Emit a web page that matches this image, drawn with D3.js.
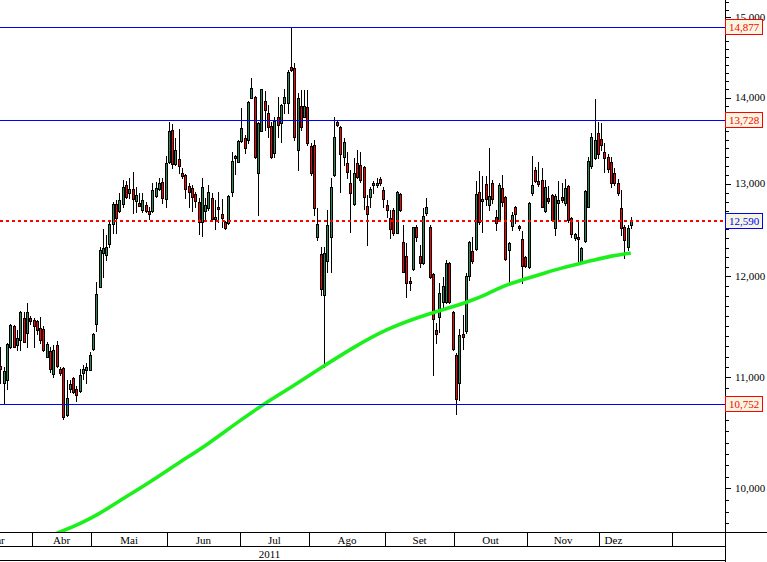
<!DOCTYPE html>
<html><head><meta charset="utf-8">
<script src="https://cdn.jsdelivr.net/npm/d3@7"></script>
<style>html,body{margin:0;padding:0;background:#fff;overflow:hidden}svg{display:block}</style>
</head><body><svg id="c" width="767" height="562"></svg>
<script>
// ---- data (daily candles, index 0 = first visible trading day) ----
const open = [11110,10949,10977,11293,11500,11313,11361,11579,11430,11579,
11559,11549,11480,11470,11196,11254,11034,11313,11082,11091,
10651,10892,10996,10892,10874,11044,11072,11072,11274,11519,
11892,12246,12225,12341,12556,12773,12697,12773,12984,12895,
12939,12806,12784,12708,12763,12697,12697,12861,12939,13018,
12828,13244,13614,13221,13279,13119,13096,12973,12950,12884,
12795,12578,12697,12730,12839,12610,12741,12664,12578,12567,
12906,13290,13244,13485,13520,13497,13995,14007,13119,13602,
13959,13815,13661,13348,13768,13697,13935,13935,14373,14361,
13382,13899,13768,13887,13428,13439,12415,12235,11810,12162,
12415,13096,13708,13650,13302,13233,13006,12773,13233,13210,
13187,12752,12850,12984,12984,13051,12928,12763,12621,12708,
12458,12884,12362,12214,11954,12078,12524,12214,12141,12675,
12524,12026,11460,11589,11740,11740,12141,11639,11216,10949,
11420,11450,12005,12267,12288,12906,12806,12995,12763,13006,
12632,12599,12950,12850,12277,12535,12741,12535,12394,12204,
12099,12895,13153,13029,13040,12697,12839,12873,12514,12784,
12850,12784,12973,12621,12404,12415,12151,12372,12741,13199,
13290,13579,13509,13359,13302,13244,13119,13006,12730,12524,
12309,12545];
const high = [11293,11100,11332,11519,11510,11460,11649,11639,11730,11599,
11579,11559,11589,11500,11342,11293,11313,11351,11100,11100,
10977,10977,11006,10921,11082,11120,11139,11245,11430,11943,
12309,12503,12437,12578,12795,12817,12895,13040,13029,13063,
13130,12962,12895,12895,12795,12741,13006,13018,13063,13063,
13313,13708,13685,13520,13626,13176,13108,13006,12984,12906,
12839,13063,12839,12984,12895,12817,12906,12828,12588,12873,
13359,13325,13497,13875,13555,13959,14238,14019,13708,14103,
14079,13911,13708,13768,14007,13923,14103,14336,14877,14423,
14055,14091,14091,14091,13462,13497,12730,12309,12309,12708,
13063,13768,13728,13661,13520,13359,13153,13290,13382,13359,
13199,12873,12962,13029,13063,13074,12962,12817,12708,12730,
12917,12895,12545,12351,11995,12524,12545,12330,12730,12839,
12545,12036,11529,11933,11995,12172,12151,11649,11235,11470,
11609,12036,12372,12415,13029,13142,13085,13085,13405,13040,
12708,13006,13096,12861,12362,12686,12752,12545,12479,12214,
12795,13313,13187,13244,13176,13040,12973,12884,12884,13029,
13006,13051,12984,12632,12458,12578,12309,12928,13302,13579,
13983,13708,13697,13462,13336,13302,13176,13051,12928,12545,
12545,12632];
const low = [10949,10752,10892,11284,11293,11264,11264,11342,11293,11519,
11293,11420,11332,11254,11196,11053,11006,11100,11025,10615,
10642,10864,10855,10780,10864,10987,10949,11072,11264,11450,
11892,11995,12172,12309,12458,12458,12686,12741,12839,12839,
12675,12686,12752,12686,12686,12610,12686,12850,12928,12784,
12741,13233,13176,13210,13119,13063,12839,12741,12697,12741,
12447,12426,12610,12708,12599,12503,12578,12524,12503,12556,
12861,13108,13244,13474,13348,13462,13995,13290,12654,13602,
13614,13532,13290,13302,13532,13474,13815,13815,14324,13497,
13153,13614,13768,13439,13096,12654,12383,11810,11100,12046,
12046,13085,13661,12906,13210,13063,12469,12763,13063,13018,
12719,12330,12741,12895,12962,12984,12741,12632,12404,12437,
12458,12697,12046,11790,11861,12067,12372,12099,12130,12654,
11985,11025,11332,11440,11659,11730,11730,11264,10660,10789,
11274,11430,11964,12141,12277,12556,12469,12763,12708,12784,
12490,12588,12752,12172,11912,12490,12567,12490,11933,12099,
12089,12873,13018,12973,12741,12686,12784,12588,12437,12599,
12795,12763,12578,12415,12383,12141,12141,12362,12741,13176,
13279,13290,13382,13130,13130,12962,12984,12873,12437,12193,
12277,12514];
const close = [11082,11063,11322,11510,11293,11381,11639,11342,11639,11549,
11500,11460,11361,11264,11322,11082,11264,11110,11044,10633,
10808,10939,10864,10836,11025,11082,11100,11216,11420,11820,
12277,12298,12309,12556,12773,12621,12817,12962,12850,12939,
12828,12873,12752,12817,12697,12664,12928,12950,13006,12839,
13233,13602,13221,13382,13199,13085,12939,12906,12850,12806,
12578,12962,12763,12906,12610,12632,12719,12621,12514,12861,
13256,13313,13485,13638,13405,13947,14115,13302,13697,14103,
13851,13650,13302,13720,13673,13911,14007,14311,14336,13532,
13995,13650,13899,13462,13119,12730,12556,11871,12246,12545,
12962,13532,13673,13336,13474,13130,12895,13119,13074,13040,
12850,12664,12939,13006,13006,13006,12828,12708,12503,12458,
12906,12708,12046,11933,11933,12524,12415,12141,12643,12741,
11995,11569,11420,11831,11902,12141,11740,11274,10798,11410,
11391,12005,12362,12162,12884,12578,12828,12828,12861,12828,
12567,12984,12795,12183,12351,12654,12664,12514,12110,12110,
12784,12984,13029,12995,12741,12962,12806,12599,12861,12817,
12817,12950,12599,12447,12447,12394,12298,12917,13256,13532,
13497,13336,13439,13290,13164,13006,13006,12895,12514,12383,
12514,12590];

// moving average, read at selected day indices
const maIndex = [15,19,24,30,36,45,54,63,72,82,88,97,107,117,127,132,137,142,147,150,155,160,165,170,175,180,185,191];
const maValue = [9595,9640,9697,9781,9890,10045,10221,10387,10590,10795,10905,11090,11290,11470,11589,11641,11689,11745,11811,11865,11933,11985,12037,12088,12131,12172,12214,12245];

// horizontal levels
const levels = [14877, 13728, 10752];
const lastClose = 12590;

// axis labels
const monthNames = ["Mar","Abr","Mai","Jun","Jul","Ago","Set","Out","Nov","Dez"];
const monthStart = [-12,10,28,51,73,94,117,138,160,182];
const monthEnd = 204;
const yearName = "2011";
const yearStart = -40;
const majorTicks = [10000,11000,12000,13000,14000,15000];

// ---- layout ----
const W = 767, H = 562, plotR = 725, plotB = 532;
const svg = d3.select("#c");
const x = d3.scaleLinear().domain([-0.1515, 219.545]).range([0, plotR]);
const y = d3.scaleLog().domain([9629, 15227]).range([plotB, 0]);
const fmt = d3.format(",");
const FONT = "'Liberation Serif', serif";

svg.append("defs").append("clipPath").attr("id","pc")
  .append("rect").attr("x",0).attr("y",0).attr("width",plotR).attr("height",plotB);
const plot = svg.append("g").attr("clip-path","url(#pc)");

// candles
const idx = d3.range(close.length);
const cg = plot.append("g").attr("shape-rendering","crispEdges");
idx.forEach(i => {
  const cx = Math.round(x(i)) - 1;
  cg.append("line")
    .attr("x1", cx + 1.5).attr("x2", cx + 1.5)
    .attr("y1", Math.round(y(high[i]))).attr("y2", Math.round(y(low[i])) + 1)
    .attr("stroke","#000").attr("stroke-width",1);
  const t = Math.round(y(Math.max(open[i], close[i])));
  const b = Math.round(y(Math.min(open[i], close[i])));
  cg.append("rect")
    .attr("x", cx + 0.5).attr("y", t + 0.5)
    .attr("width", 2).attr("height", Math.max(1, b - t))
    .attr("fill", close[i] >= open[i] ? "#2e8b57" : "#ff0000")
    .attr("stroke","#000").attr("stroke-width",1);
});

// moving average
plot.append("path")
  .datum(maIndex.map((d,k)=>[d, maValue[k]]))
  .attr("d", d3.line().x(d=>x(d[0])).y(d=>y(d[1])).curve(d3.curveBasis))
  .attr("fill","none").attr("stroke","#1cf01c").attr("stroke-width",3.6);

// level lines (drawn as thin filled rects, above candles)
const lg = svg.append("g").attr("shape-rendering","crispEdges");
levels.forEach(v => {
  lg.append("rect").attr("x",0).attr("width",plotR)
    .attr("y", Math.round(y(v))).attr("height", 1)
    .attr("fill","#0000ff");
});
lg.append("line").attr("x1",0).attr("x2",plotR)
  .attr("y1", Math.round(y(lastClose)) ).attr("y2", Math.round(y(lastClose)))
  .attr("stroke","#ff0000").attr("stroke-width",2).attr("stroke-dasharray","3,3");

// right axis
const minor = d3.range(9600, 15300, 100).filter(v => y(v) >= 0 && y(v) <= plotB);
svg.append("g").attr("shape-rendering","crispEdges").selectAll("line").data(minor).join("line")
  .attr("x1", plotR).attr("x2", d => plotR + (majorTicks.includes(d) ? 6 : 4))
  .attr("y1", d => Math.round(y(d)) + 0.5).attr("y2", d => Math.round(y(d)) + 0.5)
  .attr("stroke","#000").attr("stroke-width",1);
svg.append("g").selectAll("text").data(majorTicks).join("text")
  .attr("x", plotR + 10).attr("y", d => y(d)).attr("dy","0.35em")
  .attr("font-family", FONT).attr("font-size", 11).attr("fill","#000")
  .text(d => fmt(d));
svg.append("line").attr("x1", plotR + 0.5).attr("x2", plotR + 0.5).attr("y1",0).attr("y2",H)
  .attr("stroke","#000").attr("stroke-width",1);

// value boxes
function box(v, col) {
  const yy = Math.round(y(v));
  svg.append("rect").attr("x", plotR + 0.5).attr("y", yy - 7.5).attr("width", 37).attr("height", 15)
    .attr("fill","#f5f5e0").attr("stroke", col).attr("stroke-width",1);
  svg.append("text").attr("x", plotR + 19).attr("y", yy + 0.5).attr("dy","0.35em")
    .attr("text-anchor","middle").attr("font-family", FONT).attr("font-size", 11)
    .attr("fill", col).text(fmt(v));
}
levels.forEach(v => box(v, "#ff0000"));
box(lastClose, "#0000ff");

// bottom axis
const ax = svg.append("g").attr("shape-rendering","crispEdges");
ax.append("line").attr("x1",0).attr("x2",W).attr("y1",plotB+0.5).attr("y2",plotB+0.5).attr("stroke","#000");
ax.append("line").attr("x1",0).attr("x2",plotR).attr("y1",546.5).attr("y2",546.5).attr("stroke","#000");
ax.append("line").attr("x1",0).attr("x2",plotR).attr("y1",560.5).attr("y2",560.5).attr("stroke","#000");
const bounds = monthStart.concat([monthEnd]);
ax.selectAll("line.sep").data(bounds).join("line").attr("class","sep")
  .attr("x1", d => Math.round(x(d - 0.5)) + 0.5).attr("x2", d => Math.round(x(d - 0.5)) + 0.5)
  .attr("y1", plotB).attr("y2", 547).attr("stroke","#000");
const lastIdx = close.length - 1;
const tg = svg.append("g");
tg.selectAll("text.m").data(monthNames).join("text").attr("class","m")
  .attr("x", (d,k) => {
    const a = x(monthStart[k] - 0.5);
    const e = k + 1 < monthStart.length ? x(monthStart[k+1] - 0.5) : x(lastIdx - 1);
    return (a + e) / 2;
  })
  .attr("y", 540).attr("dy","0.35em").attr("text-anchor","middle")
  .attr("font-family", FONT).attr("font-size", 11).attr("fill","#000").text(d => d);
tg.append("text").attr("x", (x(yearStart - 0.5) + x(monthEnd - 0.5)) / 2).attr("y", 554)
  .attr("dy","0.35em").attr("text-anchor","middle")
  .attr("font-family", FONT).attr("font-size", 11).attr("fill","#000").text(yearName);
</script></body></html>
